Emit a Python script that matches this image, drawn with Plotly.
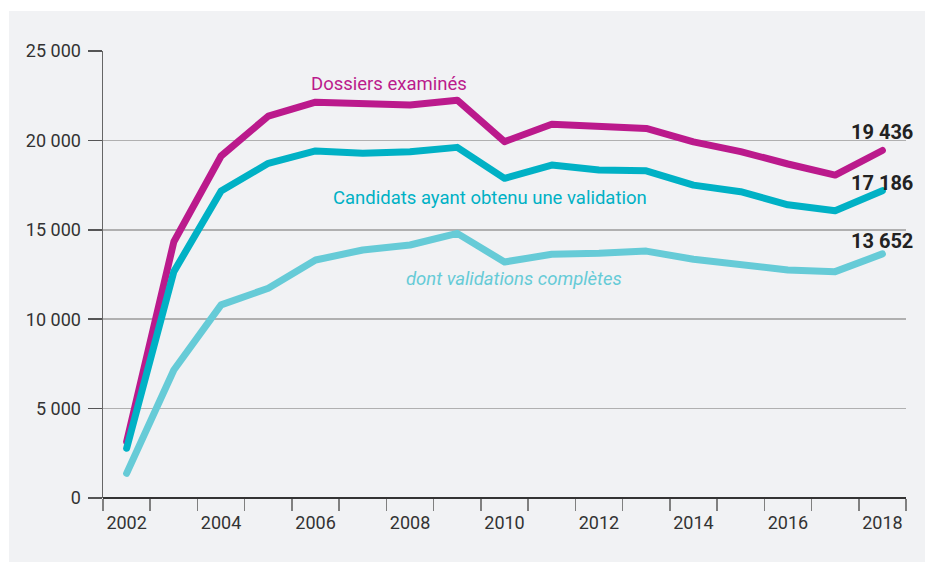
import plotly.graph_objects as go

years = list(range(2002, 2019))
dossiers = [3150, 14330, 19130, 21360, 22140, 22030, 21980, 22250, 19930, 20900,
            20740, 20670, 19920, 19370, 18680, 18060, 19436]
candidats = [2780, 12660, 17170, 18720, 19410, 19280, 19370, 19610, 17880, 18620,
             18340, 18300, 17500, 17130, 16400, 16070, 17186]
completes = [1380, 7160, 10800, 11730, 13310, 13870, 14150, 14800, 13200, 13630,
             13690, 13810, 13350, 13090, 12750, 12660, 13652]

y_tickvals = [0, 5000, 10000, 15000, 20000, 25000]
y_ticktext = ["0", "5 000", "10 000", "15 000", "20 000", "25 000"]
x_tickvals = [2002, 2004, 2006, 2008, 2010, 2012, 2014, 2016, 2018]
end_labels = ["19 436", "17 186", "13 652"]

C_MAG = "#bb1a8c"
C_TEAL = "#00b1c5"
C_LIGHT = "#66cbd7"
BG = "#f1f2f4"
FONT = "Roboto"

W, H = 925, 562
L, R, T, B = 103, 19, 51, 64
PW, PH = W - L - R, H - T - B

fig = go.Figure()
fig.add_trace(go.Scatter(x=years, y=completes, mode="lines",
                         line=dict(color=C_LIGHT, width=7), hoverinfo="skip"))
fig.add_trace(go.Scatter(x=years, y=dossiers, mode="lines",
                         line=dict(color=C_MAG, width=7), hoverinfo="skip"))
fig.add_trace(go.Scatter(x=years, y=candidats, mode="lines",
                         line=dict(color=C_TEAL, width=7), hoverinfo="skip"))

fig.add_shape(type="rect", xref="paper", yref="paper",
              x0=(9 - L) / PW, x1=(W + 5 - L) / PW, y0=-(H + 5 - (T + PH)) / PH, y1=(T + PH - 11) / PH,
              fillcolor=BG, line=dict(width=0), layer="below")

fig.add_annotation(x=2007.55, y=23150, text="Dossiers examinés",
                   showarrow=False, font=dict(family=FONT, size=18.5, color=C_MAG))
fig.add_annotation(x=2009.69, y=16780, text="Candidats ayant obtenu une validation",
                   showarrow=False, font=dict(family=FONT, size=18.5, color=C_TEAL))
fig.add_annotation(x=2010.2, y=12250, text="<i>dont validations complètes</i>",
                   showarrow=False, font=dict(family=FONT, size=18.5, color=C_LIGHT))

end_vals = [dossiers[-1], candidats[-1], completes[-1]]
shifts = [18, 7.5, 12.5]
for lab, v, s in zip(end_labels, end_vals, shifts):
    fig.add_annotation(xref="paper", x=(915 - L) / PW, y=v, yshift=s,
                       text="<b>" + lab + "</b>", showarrow=False,
                       xanchor="right", font=dict(family=FONT, size=20, color="#222222"))

fig.update_layout(
    width=W, height=H,
    margin=dict(l=L, r=R, t=T, b=B),
    paper_bgcolor="white", plot_bgcolor=BG,
    showlegend=False,
    font=dict(family=FONT, size=18, color="#333333"),
    xaxis=dict(range=[2001.5, 2018.5], tickmode="array", tickvals=x_tickvals,
               ticks="", showgrid=False, zeroline=False, showline=False,
               ticklabelstandoff=12,
               tickfont=dict(size=18, color="#333333"), fixedrange=True,
               minor=dict(tickmode="linear", tick0=2001.5, dtick=1, ticks="outside",
                          ticklen=12, tickwidth=1.5, tickcolor="#808080", showgrid=False)),
    yaxis=dict(range=[0, 25000], tickmode="array", tickvals=y_tickvals, ticktext=y_ticktext,
               ticks="outside", ticklen=14, tickwidth=1.5, tickcolor="#555555",
               showgrid=True, gridcolor="#b0b0b0", gridwidth=1.5,
               zeroline=True, zerolinecolor="#333333", zerolinewidth=1.5,
               showline=True, linecolor="#666666", linewidth=1.5,
               ticklabelstandoff=3,
               tickfont=dict(size=18, color="#333333"), fixedrange=True),
)

post = (
    "document.documentElement.style.margin='0';"
    "document.documentElement.style.overflow='hidden';"
    "document.body.style.margin='0';document.body.style.overflow='hidden';"
    "document.querySelectorAll('.scatterlayer path.js-line').forEach(function(p){"
    "p.style.strokeLinecap='round';p.style.strokeLinejoin='round';});"
)
fig.write_html("out.html", config={"displayModeBar": False, "staticPlot": True},
               post_script=post)
